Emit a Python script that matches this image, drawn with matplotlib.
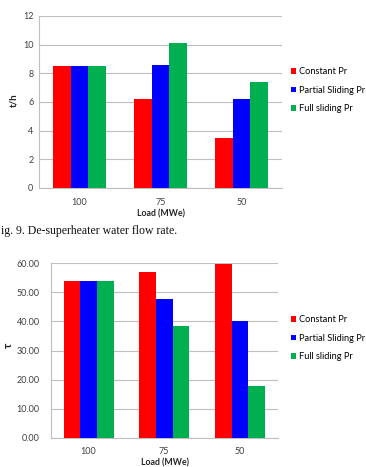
import matplotlib
matplotlib.use("Agg")
import matplotlib.pyplot as plt
import numpy as np

plt.rcParams['font.family'] = ['Lato', 'DejaVu Sans']

loads = ['100', '75', '50']
series = ['Constant Pr', 'Partial Sliding Pr', 'Full sliding Pr']
colors = ['#FF0000', '#0000FF', '#00B050']

# de-superheater water flow (t/h)
flow_constant = [8.5, 6.2, 3.5]
flow_partial = [8.5, 8.55, 6.2]
flow_full = [8.5, 10.1, 7.4]

# second chart
tau_constant = [53.9, 56.9, 59.7]
tau_partial = [53.9, 47.6, 40.2]
tau_full = [53.9, 38.4, 17.8]

W, H = 366, 467


def fx(px):
    return px / W


def fy(py):
    return 1 - py / H


def draw_bars(ax, data, ymax, step, fmt):
    x = np.arange(len(loads))
    w = 0.22
    for i, (vals, c) in enumerate(zip(data, colors)):
        ax.bar(x + (i - 1) * w, vals, w, color=c, label=series[i], zorder=3)
    ax.set_xlim(-0.5, 2.5)
    ax.set_ylim(0, ymax)
    ax.set_yticks(np.arange(0, ymax + 0.01, step))
    ax.set_yticklabels([fmt.format(v) for v in np.arange(0, ymax + 0.01, step)])
    ax.set_xticks(x)
    ax.set_xticklabels(loads)
    ax.grid(axis='y', color='#BFBFBF', linewidth=0.8, zorder=0)
    for s in ['top', 'right']:
        ax.spines[s].set_visible(False)
    ax.spines['left'].set_color('#BFBFBF')
    ax.spines['bottom'].set_color('#BFBFBF')
    ax.tick_params(length=0, labelsize=6.5, colors='#404040', pad=4)
    ax.tick_params(axis='x', pad=7)


def add_legend(ax, top_px):
    ax.legend(loc='upper left', bbox_to_anchor=(fx(291), fy(top_px)), bbox_transform=fig.transFigure,
              frameon=False, fontsize=6.7, handlelength=0.55, handleheight=0.55,
              handletextpad=0.35, labelspacing=1.0, borderpad=0, borderaxespad=0)


fig = plt.figure(figsize=(W / 100, H / 100), dpi=100)

ax1 = fig.add_axes([fx(39), fy(188), fx(282 - 39), (188 - 16) / H])
draw_bars(ax1, [flow_constant, flow_partial, flow_full], 12, 2, '{:.0f}')
add_legend(ax1, 67.5)
fig.text(fx(14), fy(100), 't/h', rotation=90, ha='center', va='center',
         fontsize=7, fontweight='bold', color='#262626')
fig.text(fx(161), fy(214), 'Load (MWe)', ha='center', va='center',
         fontsize=6.3, fontweight='bold', color='#262626')

fig.text(fx(1), fy(231), 'ig. 9. De-superheater water flow rate.', ha='left', va='center',
         fontsize=8.5, family='Liberation Serif', color='#111111')

ax2 = fig.add_axes([fx(50.7), fy(437.7), fx(277.7 - 50.7), (437.7 - 263.3) / H])
draw_bars(ax2, [tau_constant, tau_partial, tau_full], 60, 10, '{:.2f}')
ax2.tick_params(axis='y', pad=8)
add_legend(ax2, 315.5)
fig.text(fx(8), fy(345), 'τ', rotation=90, ha='center', va='center',
         fontsize=8, fontweight='bold', color='#262626')
fig.text(fx(165), fy(463), 'Load (MWe)', ha='center', va='center',
         fontsize=6.3, fontweight='bold', color='#262626')

fig.savefig('out.png', dpi=100)
